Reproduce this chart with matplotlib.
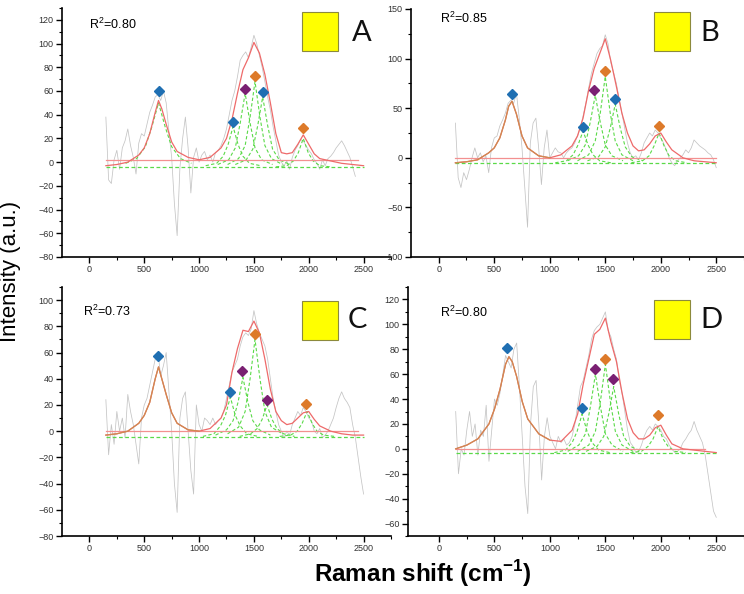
import matplotlib

matplotlib.use("Agg")
import matplotlib.pyplot as plt  # noqa: E402
import numpy as np  # noqa: E402
from matplotlib.patches import Rectangle  # noqa: E402

plt.rcParams["font.family"] = ["Liberation Sans", "DejaVu Sans"]
plt.rcParams["mathtext.fontset"] = "custom"
plt.rcParams["mathtext.rm"] = "Liberation Sans"
plt.rcParams["mathtext.bf"] = "Liberation Sans:bold"

W, H = 744, 594

spec_x = np.arange(150, 2501, 25)
A_spec = [38, -15, -18, 2, 10, -6, 12, 18, 28, 14, 4, -10, 16, 24, 22, 32, 42, 48, 55, 57,
          52, 60, 50, 26, 4, -35, -62, -5, 20, 38, 12, -26, 4, 12, 0, 6, 9, 2, 6, 0,
          8, 10, 14, 20, 28, 40, 52, 60, 72, 86, 90, 93, 88, 97, 107, 100, 90, 80, 68, 55,
          44, 30, 18, 6, 0, -3, 1, -6, 4, 10, 14, 19, 18, 14, 10, 7, 2, -1, -6, 2,
          -3, 3, 5, 8, 12, 15, 18, 14, 9, 4, -4, -12]
B_spec = [35, -20, -30, -15, -22, -12, 0, 10, 0, 5, -4, 2, -15, 10, 20, 22, 32, 38, 45, 55,
          58, 55, 65, 40, 10, -30, -70, 15, 35, 40, 10, -27, 10, 28, 0, 5, 10, 6, 5, 0,
          5, 8, 10, 15, 22, 30, 42, 55, 70, 85, 95, 105, 110, 113, 124, 115, 96, 86, 75, 60,
          45, 30, 15, 5, 0, 2, -2, 5, 15, 20, 25, 22, 28, 25, 20, 15, 8, 0, -5, -8,
          -3, 0, 3, 8, 5, 10, 18, 15, 12, 10, 8, 5, 3, -2, -10]
C_spec = [24, -18, 5, -10, 15, 0, 10, -5, 28, 15, 5, -10, -25, 10, 20, 25, 35, 45, 55, 60,
          42, 50, 60, 30, 0, -40, -62, 10, 25, 30, 0, -30, -48, 20, 5, 0, 10, 8, 5, 10,
          5, 8, 10, 15, 25, 35, 45, 50, 55, 65, 72, 75, 73, 78, 92, 82, 75, 70, 65, 55,
          40, 25, 15, 5, 0, -5, 0, -3, 5, 10, 15, 12, 18, 15, 10, 8, 0, -2, 2, -5,
          -3, 0, 5, 10, 18, 25, 30, 25, 22, 18, 5, -5, -20, -35, -48]
D_spec = [30, -20, 0, -5, 15, 30, 10, 20, -5, 15, 10, 35, -10, 15, 40, 35, 45, 60, 75, 70,
          65, 80, 85, 50, 10, -30, -52, 20, 50, 55, 20, -25, 10, 25, 10, 5, 0, 10, 5, 8,
          3, 5, 10, 20, 35, 50, 55, 65, 75, 88, 95, 98, 100, 105, 110, 95, 90, 80, 72, 55,
          45, 30, 15, 5, 2, -3, -2, 3, 10, 15, 18, 15, 20, 18, 15, 10, 8, 3, 0, -3,
          -2, 0, 5, 8, 12, 15, 22, 15, 10, 5, -5, -20, -35, -50, -55]

# cumulative fit (red)
fit_x = [150, 250, 350, 450, 500, 550, 600, 630, 660, 700, 750, 800, 900, 1000, 1100, 1200,
         1250, 1300, 1350, 1400, 1450, 1500, 1550, 1600, 1650, 1700, 1750, 1800, 1850, 1900,
         1950, 2000, 2050, 2100, 2200, 2300, 2400, 2500]
A_fit = [-3, -2, 0, 6, 12, 24, 42, 52, 45, 32, 17, 9, 4, 2, 4, 12, 20, 36, 58, 78, 88, 101,
         92, 74, 50, 24, 8, 7, 8, 15, 23, 15, 7, 3, 1, -1, -2, -3]
B_fit = [-5, -4, -2, 5, 10, 20, 38, 52, 57, 44, 22, 10, 2, 0, 3, 12, 22, 40, 68, 90, 105, 120,
         98, 72, 45, 25, 12, 7, 8, 14, 22, 25, 16, 8, 0, -3, -4, -5]
C_fit = [-3, -2, 0, 6, 12, 22, 40, 49, 40, 28, 14, 6, 1, 0, 2, 10, 20, 45, 63, 77, 76, 84,
         75, 55, 32, 15, 8, 5, 6, 10, 14, 15, 9, 4, 0, -2, -3, -3]
D_fit = [0, 3, 8, 20, 32, 48, 68, 74, 70, 58, 38, 24, 12, 7, 6, 15, 28, 52, 72, 92, 96, 105,
         86, 70, 45, 24, 13, 8, 8, 11, 17, 19, 11, 4, 0, -1, -2, -3]

# baselines: red level / end, green dashed level
A_base = (2, 2450, -4)
B_base = (0, 2500, -5.5)
C_base = (0, 2450, -4.5)
D_base = (0, 2400, -3)

# fitted components (green dashed) around 1300-2000
comp_dx = [-250, -150, -90, -45, 0, 45, 90, 150, 250]
A_comp_c = [1310, 1420, 1510, 1580, 1950]
A_comp_y = [[-3, -1, 5, 15, 30, 15, 5, -1, -3],
            [-2, 2, 12, 33, 58, 33, 12, 2, -2],
            [-2, 3, 14, 38, 68, 38, 14, 3, -2],
            [-2, 2, 11, 31, 55, 31, 11, 2, -2],
            [-4, -3, 1, 8, 20, 8, 1, -3, -4]]
B_comp_c = [1300, 1410, 1500, 1590, 1985]
B_comp_y = [[-5, -3, 3, 13, 27, 13, 3, -3, -5],
            [-3, 2, 13, 36, 63, 36, 13, 2, -3],
            [-3, 3, 17, 45, 82, 45, 17, 3, -3],
            [-3, 1, 11, 30, 54, 30, 11, 1, -3],
            [-5, -3, 2, 12, 25, 12, 2, -3, -5]]
C_comp_c = [1285, 1400, 1510, 1620, 1985]
C_comp_y = [[-4, -2, 4, 12, 26, 12, 4, -2, -4],
            [-3, 1, 8, 22, 41, 22, 8, 1, -3],
            [-2, 3, 15, 40, 70, 40, 15, 3, -2],
            [-4, -2, 2, 9, 20, 9, 2, -2, -4],
            [-4, -3, 0, 6, 15, 6, 0, -3, -4]]
D_comp_c = [1290, 1410, 1500, 1575, 1975]
D_comp_y = [[-3, -1, 5, 14, 28, 14, 5, -1, -3],
            [-2, 3, 12, 34, 60, 34, 12, 3, -2],
            [-2, 3, 14, 38, 68, 38, 14, 3, -2],
            [-2, 2, 10, 28, 50, 28, 10, 2, -2],
            [-3, -2, 2, 8, 18, 8, 2, -2, -3]]
# broad band near 630 in panel A (drawn as its own green component)
A_band_x = [330, 430, 510, 570, 630, 690, 750, 830, 930]
A_band_y = [-1, 3, 13, 30, 50, 30, 13, 3, -1]

# peak markers
BLUE, PURPLE, ORANGE = "#1f6fb2", "#7a1f72", "#dd7a2a"
A_pk_x = [630, 1310, 1420, 1510, 1580, 1950]
A_pk_y = [60, 34, 62, 73, 59, 29]
A_pk_c = [BLUE, BLUE, PURPLE, ORANGE, BLUE, ORANGE]
B_pk_x = [659, 1300, 1401, 1497, 1584, 1982]
B_pk_y = [64, 31, 68, 88, 59, 32]
B_pk_c = [BLUE, BLUE, PURPLE, ORANGE, BLUE, ORANGE]
C_pk_x = [628, 1283, 1393, 1506, 1616, 1979]
C_pk_y = [57, 30, 46, 74, 24, 21]
C_pk_c = [BLUE, BLUE, PURPLE, ORANGE, PURPLE, ORANGE]
D_pk_x = [617, 1287, 1407, 1497, 1572, 1970]
D_pk_y = [81, 33, 64, 72, 56, 27]
D_pk_c = [BLUE, BLUE, PURPLE, ORANGE, PURPLE, ORANGE]

r2 = {"A": "0.80", "B": "0.85", "C": "0.73", "D": "0.80"}

GREEN = "#5ada48"
fig = plt.figure(figsize=(W / 100, H / 100), dpi=100)


def px_axes(left, top, right, bottom):
    return fig.add_axes([left / W, 1 - bottom / H, (right - left) / W, (bottom - top) / H])


def panel(ax, spec, fit, base, comp_c, comp_y, pk_x, pk_y, pk_c, xlim, ylim, ystep,
          band_overlap):
    ax.plot(spec_x[:len(spec)], spec, color="#c4c4c4", lw=0.55, zorder=1)
    for c, ys in zip(comp_c, comp_y):
        ax.plot([c + d for d in comp_dx], ys, color=GREEN, lw=0.8, ls=(0, (3, 2)), zorder=2)
    ax.plot([150, 2500], [base[2], base[2]], color=GREEN, lw=0.9, ls=(0, (3, 2)), zorder=2)
    ax.plot([150, base[1]], [base[0], base[0]], color="#f39090", lw=0.9, zorder=3)
    ax.plot(fit_x, fit, color="#ee6a6a", lw=0.9, zorder=3)
    if band_overlap:
        # broad band component coincides with the fit, giving an olive-orange line
        n = fit_x.index(1000) + 1
        ax.plot(fit_x[:n], fit[:n], color="#cf8a50", lw=0.9, zorder=3.5)
    for x, y, c in zip(pk_x, pk_y, pk_c):
        ax.plot(x, y, marker="D", ms=5.5, color=c, mec=c, zorder=4)
    ax.set_xlim(*xlim)
    ax.set_xticks(np.arange(0, 2501, 500))
    ax.set_xticks(np.arange(250, 2751, 500), minor=True)
    lo = int(np.ceil(ylim[0] / ystep) * ystep)
    ax.set_yticks(np.arange(lo, ylim[1] + 0.1, ystep))
    ax.set_yticks(np.arange(lo - ystep / 2, ylim[1] + 0.1, ystep / 2), minor=True)
    ax.set_ylim(*ylim)
    for s in ("top", "right"):
        ax.spines[s].set_visible(False)
    for s in ("left", "bottom"):
        ax.spines[s].set_linewidth(1.2)
    ax.tick_params(which="major", direction="out", length=4, width=1, labelsize=6.5,
                   labelcolor="#333333", pad=2)
    ax.tick_params(which="minor", direction="out", length=2.5, width=0.8)
    ax.set_facecolor("none")


axA = px_axes(62, 8, 391, 257)
axA.plot(A_band_x, A_band_y, color=GREEN, lw=0.8, ls=(0, (3, 2)), zorder=2)
panel(axA, A_spec, A_fit, A_base, A_comp_c, A_comp_y, A_pk_x, A_pk_y, A_pk_c,
      (-250, 2700), (-80, 130), 20, False)
axB = px_axes(411, 9, 744, 257)
panel(axB, B_spec, B_fit, B_base, B_comp_c, B_comp_y, B_pk_x, B_pk_y, B_pk_c,
      (-250, 2750), (-100, 150), 50, True)
axC = px_axes(62, 287, 391, 536)
panel(axC, C_spec, C_fit, C_base, C_comp_c, C_comp_y, C_pk_x, C_pk_y, C_pk_c,
      (-250, 2700), (-80, 110), 20, True)
axD = px_axes(408, 287, 744, 536)
panel(axD, D_spec, D_fit, D_base, D_comp_c, D_comp_y, D_pk_x, D_pk_y, D_pk_c,
      (-280, 2750), (-70, 130), 20, True)

# R^2, yellow boxes and panel letters, placed in figure pixels
labels = [("A", 89, 24, 302, 12, 352, 33), ("B", 440, 18, 654, 12, 700, 33),
          ("C", 83, 311, 302, 301, 348, 320), ("D", 440, 312, 654, 300, 700, 320)]
for key, rx, ry, bx, by, lx, ly in labels:
    fig.text(rx / W, 1 - ry / H, "R$^{2}$=" + r2[key], fontsize=9, va="center", ha="left")
    fig.patches.append(Rectangle((bx / W, 1 - (by + 39) / H), 36 / W, 39 / H,
                                 transform=fig.transFigure, facecolor="#ffff00",
                                 edgecolor="#8c8a3c", lw=0.8))
    fig.text(lx / W, 1 - ly / H, key, fontsize=21, va="center", ha="left",
             family=["Lato", "DejaVu Sans"], color="#111111")

fig.text(11 / W, 1 - 271 / H, "Intensity (a.u.)", rotation=90, fontsize=16,
         va="center", ha="center")
fig.text(423 / W, 1 - 574 / H, r"Raman shift (cm$^{\mathbf{-1}}$)", fontsize=17.5,
         fontweight="bold", va="center", ha="center")

fig.savefig("out.png", dpi=100)
plt.close(fig)
